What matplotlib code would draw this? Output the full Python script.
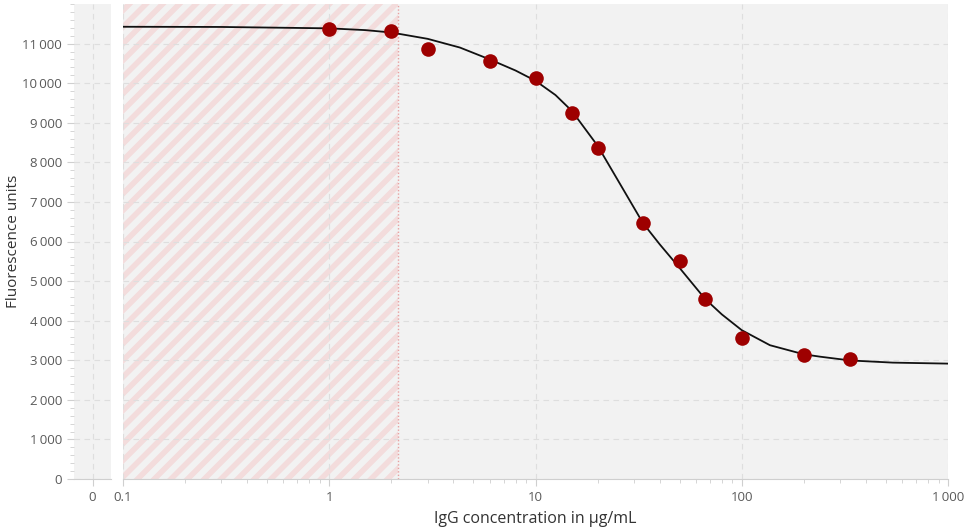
import numpy as np
import matplotlib
matplotlib.use("Agg")
import matplotlib.pyplot as plt
from matplotlib.ticker import FixedLocator, NullFormatter, LogLocator

plt.rcParams['font.family'] = ['Open Sans', 'DejaVu Sans']
plt.rcParams['hatch.linewidth'] = 4.0
plt.rcParams['hatch.color'] = '#f3dcdc'

# measured points
conc = [1, 2, 3, 6, 10, 15, 20, 33.3, 50, 66.7, 100, 200, 333]
fluo = [11380, 11330, 10875, 10570, 10140, 9250, 8365, 6465, 5500, 4560, 3550, 3145, 3040]

fit_x = [0.1, 0.3, 1.0, 1.5, 2.0, 3.0, 4.3, 6.0, 8.0, 10, 12.5, 15, 20, 25, 33.2, 40,
         50, 66.4, 80, 100, 137, 200, 240, 335, 540, 1000]
fit_y = [11425, 11420, 11385, 11340, 11280, 11120, 10900, 10600, 10320, 10060, 9700, 9300,
         8420, 7560, 6464, 5930, 5330, 4550, 4160, 3760, 3380, 3150, 3090, 2995, 2940, 2915]

lod = 2.15  # end of hatched zone
yticks = [0, 1000, 2000, 3000, 4000, 5000, 6000, 7000, 8000, 9000, 10000, 11000]
xticks = [0.1, 1, 10, 100, 1000]
xtick_labels = ['0.1', '1', '10', '100', '1\u2009000']

def fmt(v):
    return f'{v:,}'.replace(',', '\u2009')

W, H = 966, 528
fig = plt.figure(figsize=(W / 100, H / 100), dpi=100)
bottom = (H - 479) / H
height = (479 - 4) / H
ax0 = fig.add_axes([74 / W, bottom, (111 - 74) / W, height])
ax = fig.add_axes([123 / W, bottom, (948 - 123) / W, height])

bg = '#f2f2f2'
grid_c = '#dedede'
tick_c = '#cfcfcf'
lab_c = '#5a5a5a'

for a in (ax0, ax):
    a.set_facecolor(bg)
    for s in ('top', 'right', 'left'):
        a.spines[s].set_visible(False)
    a.spines['bottom'].set_color(tick_c)
    a.set_ylim(0, 12000)
    a.yaxis.set_major_locator(FixedLocator(yticks))
    a.yaxis.set_minor_locator(FixedLocator(np.arange(0, 12001, 200)))
    a.grid(True, which='major', color=grid_c, linestyle=(0, (5, 4)), linewidth=0.8)
    a.set_axisbelow(True)
    a.tick_params(which='both', colors=tick_c, labelcolor=lab_c, labelsize=9.5)
    a.tick_params(which='major', length=5)
    a.tick_params(which='minor', length=3)

# zero panel
ax0.set_xlim(-1, 1)
ax0.set_xticks([0])
ax0.set_xticklabels(['0'])
ax0.set_yticklabels([fmt(v) for v in yticks])
ax0.set_ylabel('Fluorescence units', color='#333333', fontsize=11)
ax0.yaxis.set_label_coords((21 - 74) / 37, 0.5)

# main log panel
ax.set_xscale('log')
ax.set_xlim(0.1, 1000)
ax.set_xticks(xticks)
ax.set_xticklabels(xtick_labels)
ax.xaxis.set_minor_locator(LogLocator(base=10, subs=np.arange(2, 10)))
ax.xaxis.set_minor_formatter(NullFormatter())
ax.tick_params(axis='y', which='both', left=False, labelleft=False)
ax.set_xlabel('IgG concentration in µg/mL', color='#333333', fontsize=11.5, labelpad=5)

ax.axvspan(0.1, lod, facecolor='none', edgecolor='#f3dcdc', hatch='//', linewidth=0, zorder=0.5)
ax.axvline(lod, color='#e8a0a0', linestyle=(0, (1, 1.5)), linewidth=1, zorder=1)

ax.plot(fit_x, fit_y, color='#111111', linewidth=1.3, zorder=3)
ax.plot(conc, fluo, 'o', color='#9e0000', markersize=10.5, markeredgewidth=0, zorder=4)

fig.savefig('out.png', dpi=100)
